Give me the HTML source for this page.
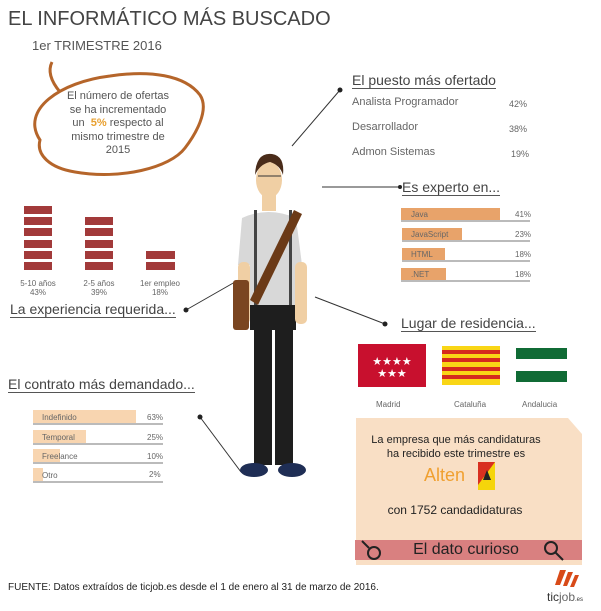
<!DOCTYPE html>
<html><head><meta charset="utf-8"><style>
body{margin:0;width:601px;height:611px;background:#fff;position:relative;overflow:hidden;font-family:"Liberation Sans",sans-serif;color:#555}
.a{position:absolute;white-space:nowrap}
.h{font-size:14px;color:#444;border-bottom:1px solid #555;line-height:16px}
.s{font-size:11px;color:#666}
.t{font-size:8px;color:#666}
</style></head><body>
<div class="a" style="left:8px;top:8px;font-size:20px;color:#444">EL INFORMÁTICO MÁS BUSCADO</div>
<div class="a" style="left:32px;top:38px;font-size:13px;color:#555">1er TRIMESTRE 2016</div>

<svg class="a" style="left:0;top:0" width="601" height="611">
 <path d="M40 140 C20 110 60 82 110 76 C150 70 185 75 200 95 C210 110 195 135 185 148 C170 168 120 180 75 172 C50 168 36 155 40 140 Z" fill="none" stroke="#b5652a" stroke-width="3"/>
 <path d="M60 92 C50 80 48 70 52 62" fill="none" stroke="#b5652a" stroke-width="3"/>
 <g stroke="#333" stroke-width="1"><line x1="340" y1="90" x2="292" y2="146"/><line x1="322" y1="187" x2="400" y2="187"/><line x1="315" y1="297" x2="385" y2="324"/><line x1="186" y1="310" x2="242" y2="278"/><line x1="200" y1="417" x2="241" y2="472"/></g>
 <g fill="#222"><circle cx="340" cy="90" r="2.5"/><circle cx="400" cy="187" r="2"/><circle cx="385" cy="324" r="2.5"/><circle cx="186" cy="310" r="2.5"/><circle cx="200" cy="417" r="2.5"/></g>
 <g fill="#a23a3a">
  <rect x="24" y="206" width="28" height="8"/><rect x="24" y="217" width="28" height="8"/><rect x="24" y="228" width="28" height="8"/><rect x="24" y="240" width="28" height="8"/><rect x="24" y="251" width="28" height="8"/><rect x="24" y="262" width="28" height="8"/>
  <rect x="85" y="217" width="28" height="8"/><rect x="85" y="228" width="28" height="8"/><rect x="85" y="240" width="28" height="8"/><rect x="85" y="251" width="28" height="8"/><rect x="85" y="262" width="28" height="8"/>
  <rect x="146" y="251" width="29" height="8"/><rect x="146" y="262" width="29" height="8"/>
 </g>
 <g fill="#e8a36a"><rect x="401" y="208" width="99" height="12"/><rect x="402" y="228" width="60" height="12"/><rect x="402" y="248" width="43" height="12"/><rect x="401" y="268" width="45" height="12"/></g>
 <g stroke="#777"><line x1="401" y1="221" x2="530" y2="221"/><line x1="402" y1="241" x2="530" y2="241"/><line x1="402" y1="261" x2="530" y2="261"/><line x1="401" y1="281" x2="530" y2="281"/></g>
 <g fill="#f8d5b0"><rect x="33" y="410" width="103" height="13"/><rect x="33" y="430" width="53" height="13"/><rect x="33" y="449" width="27" height="13"/><rect x="33" y="468" width="10" height="13"/></g>
 <g stroke="#777"><line x1="33" y1="424" x2="163" y2="424"/><line x1="33" y1="444" x2="163" y2="444"/><line x1="33" y1="463" x2="163" y2="463"/><line x1="33" y1="482" x2="163" y2="482"/></g>
 <rect x="358" y="344" width="68" height="43" fill="#c8102e"/>
 <text x="392" y="365" fill="#fff" font-size="11" text-anchor="middle" font-family="DejaVu Sans">★★★★</text>
 <text x="392" y="377" fill="#fff" font-size="11" text-anchor="middle" font-family="DejaVu Sans">★★★</text>
 <rect x="442" y="346" width="58" height="39" fill="#f9d616"/>
 <g fill="#d52b1e"><rect x="442" y="350" width="58" height="4"/><rect x="442" y="358" width="58" height="4"/><rect x="442" y="367" width="58" height="4"/><rect x="442" y="375" width="58" height="4"/></g>
 <g fill="#106b35"><rect x="516" y="348" width="51" height="11"/><rect x="516" y="371" width="51" height="11"/></g>
 <g>
  <rect x="254" y="315" width="18" height="150" fill="#1e1e1e"/><rect x="275" y="315" width="18" height="150" fill="#1e1e1e"/>
  <rect x="250" y="300" width="46" height="30" fill="#1e1e1e"/>
  <path d="M242 218 Q268 206 296 218 L302 265 L296 265 L296 305 L250 305 L250 265 L238 265 Z" fill="#d8d8d8"/>
  <rect x="238" y="262" width="12" height="62" rx="5" fill="#f0cfa4"/><rect x="295" y="262" width="12" height="62" rx="5" fill="#f0cfa4"/>
  <rect x="254" y="210" width="3" height="95" fill="#444"/><rect x="289" y="210" width="3" height="95" fill="#444"/>
  <path d="M294 210 L302 214 L258 305 L250 300 Z" fill="#6b3a17"/>
  <rect x="233" y="280" width="16" height="50" rx="3" fill="#7a4520"/>
  <rect x="262" y="195" width="14" height="16" fill="#f0cfa4"/>
  <ellipse cx="269" cy="180" rx="13" ry="18" fill="#f0cfa4"/>
  <path d="M255 175 Q256 152 272 154 Q285 156 283 175 Q280 165 270 162 Q260 164 255 175 Z" fill="#4a2c1a"/>
  <line x1="258" y1="176" x2="281" y2="176" stroke="#333"/>
  <ellipse cx="254" cy="470" rx="14" ry="7" fill="#1f2e55"/><ellipse cx="292" cy="470" rx="14" ry="7" fill="#1f2e55"/>
 </g>
 <path d="M356 418 L568 418 L582 434 L582 565 L356 565 Z" fill="#f9dfc5"/>
 <rect x="355" y="540" width="227" height="20" fill="#d98080"/>
 <g fill="none" stroke="#222" stroke-width="2"><circle cx="374" cy="553" r="6"/><line x1="362" y1="541" x2="369" y2="548"/><circle cx="551" cy="548" r="6"/><line x1="555" y1="552" x2="563" y2="560"/></g>
 <rect x="478" y="462" width="17" height="28" fill="#f5d50b"/><path d="M478 462 L495 462 L478 485 Z" fill="#d83020"/><path d="M483 480 L487 470 L491 480 Z" fill="#222"/>
 <g fill="#d84a18"><path d="M560 570 L566 570 L560 585 L555 585 Z"/><path d="M568 572 L573 572 L567 586 L563 586 Z"/><path d="M575 575 L579 575 L574 587 L570 587 Z"/></g>
</svg>

<div class="a" style="left:62px;top:90px;width:112px;text-align:center;white-space:normal;font-size:11px;line-height:13.5px;color:#555">El número de ofertas se ha incrementado un&nbsp; <b style="color:#e8a030">5%</b> respecto al mismo trimestre de 2015</div>

<div class="a h" style="left:352px;top:72px">El puesto más ofertado</div>
<div class="a s" style="left:352px;top:96px">Analista Programador</div><div class="a t" style="left:509px;top:99px;font-size:9px">42%</div>
<div class="a s" style="left:352px;top:121px">Desarrollador</div><div class="a t" style="left:509px;top:124px;font-size:9px">38%</div>
<div class="a s" style="left:352px;top:146px">Admon Sistemas</div><div class="a t" style="left:511px;top:149px;font-size:9px">19%</div>

<div class="a h" style="left:402px;top:179px">Es experto en...</div>
<div class="a t" style="left:411px;top:210px">Java</div><div class="a t" style="left:515px;top:210px">41%</div>
<div class="a t" style="left:411px;top:230px">JavaScript</div><div class="a t" style="left:515px;top:230px">23%</div>
<div class="a t" style="left:411px;top:250px">HTML</div><div class="a t" style="left:515px;top:250px">18%</div>
<div class="a t" style="left:411px;top:270px">.NET</div><div class="a t" style="left:515px;top:270px">18%</div>

<div class="a h" style="left:401px;top:315px">Lugar de residencia...</div>
<div class="a t" style="left:376px;top:400px">Madrid</div>
<div class="a t" style="left:454px;top:400px">Cataluña</div>
<div class="a t" style="left:522px;top:400px">Andalucia</div>

<div class="a t" style="left:18px;top:279px;width:40px;text-align:center;line-height:9px">5-10 años<br>43%</div>
<div class="a t" style="left:79px;top:279px;width:40px;text-align:center;line-height:9px">2-5 años<br>39%</div>
<div class="a t" style="left:138px;top:279px;width:44px;text-align:center;line-height:9px">1er empleo<br>18%</div>
<div class="a h" style="left:10px;top:301px;font-size:14px">La experiencia requerida...</div>

<div class="a h" style="left:8px;top:376px;font-size:14px">El contrato más demandado...</div>
<div class="a t" style="left:42px;top:413px">Indefinido</div><div class="a t" style="left:147px;top:413px">63%</div>
<div class="a t" style="left:42px;top:433px">Temporal</div><div class="a t" style="left:147px;top:433px">25%</div>
<div class="a t" style="left:42px;top:452px">Freelance</div><div class="a t" style="left:147px;top:452px">10%</div>
<div class="a t" style="left:42px;top:471px">Otro</div><div class="a t" style="left:149px;top:470px">2%</div>

<div class="a" style="left:356px;top:433px;width:200px;text-align:center;font-size:11px;line-height:14px;color:#222">La empresa que más candidaturas<br>ha recibido este trimestre es</div>
<div class="a" style="left:424px;top:465px;font-size:18px;color:#f0a030">Alten</div>
<div class="a" style="left:356px;top:503px;width:198px;text-align:center;font-size:12px;color:#222">con 1752 candadidaturas</div>
<div class="a" style="left:356px;top:540px;width:220px;text-align:center;font-size:16px;line-height:20px;color:#222">El dato curioso</div>

<div class="a" style="left:8px;top:582px;font-size:10px;color:#222">FUENTE: Datos extraídos de ticjob.es desde el 1 de enero al 31 de marzo de 2016.</div>
<div class="a" style="left:547px;top:590px;font-size:12px;color:#333">tic<span style="color:#666">job</span><span style="font-size:6px">.es</span></div>
</body></html>
